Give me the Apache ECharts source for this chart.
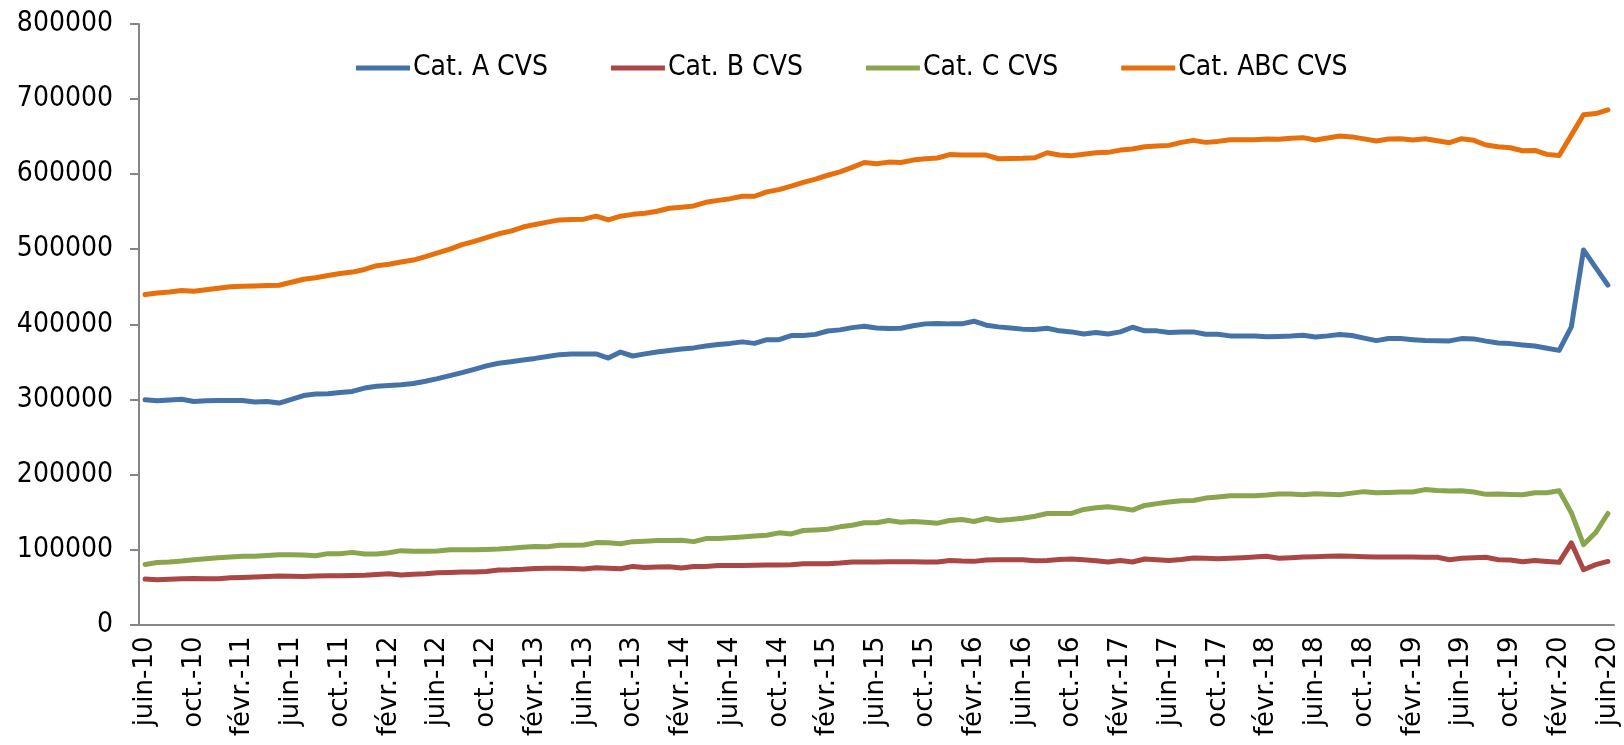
<!DOCTYPE html>
<html>
<head>
<meta charset="utf-8">
<script src="https://cdn.jsdelivr.net/npm/echarts@6/dist/echarts.min.js"></script>
<style>
  html, body { margin: 0; padding: 0; background: #fff; }
  #chart { width: 1624px; height: 745px; }
</style>
</head>
<body>
<div id="chart"></div>
<script>
// mois affichés sur l'axe (juin-10 ... juin-20)
var moisNoms = ['janv.', 'févr.', 'mars', 'avr.', 'mai', 'juin', 'juil.', 'août', 'sept.', 'oct.', 'nov.', 'déc.'];
var debutAnnee = 10, debutMois = 5, nbMois = 121;

// séries
var catA = [
  299500, 298000, 299000, 300000, 297000, 298000, 298500, 298500, 298500, 296500,
  297000, 295000, 300000, 305000, 307000, 307500, 309000, 310500, 315000, 317500,
  318500, 319500, 321000, 324000, 327500, 331500, 335500, 340000, 344500, 348000,
  350000, 352500, 354500, 357000, 359500, 360500, 360500, 360500, 355000, 363000,
  357700, 360500, 363000, 365000, 367000, 368500, 371000, 373000, 374500, 376500,
  374500, 379500, 379500, 385000, 385000, 386500, 391000, 392500, 395500, 397300,
  395000, 394200, 394600, 398000, 400500, 401000, 400500, 400500, 404000, 398700,
  396500, 395000, 393500, 393000, 394600, 391200, 389800, 387100, 388900, 387100,
  389800, 396000, 391200, 391200, 389000, 389800, 389800, 386600, 386600, 384500,
  384500, 384500, 383500, 383800, 384300, 385300, 383000, 384500, 386400, 385000,
  381500, 378200, 380900, 380900, 379500, 378200, 378000, 377800, 380900, 380500,
  377500, 375000, 374200, 372500, 371000, 368000, 365200, 396500, 499000, 475500,
  452200
];
var catB = [
  60500, 59500, 60300, 61000, 61300, 61000, 61000, 62200, 62700, 63200,
  63800, 64500, 64200, 64000, 64500, 64900, 65100, 65300, 65600, 66500,
  67600, 65800, 67000, 67600, 68900, 69400, 69900, 70000, 70500, 72500,
  72800, 73500, 74700, 74900, 75100, 74500, 74000, 75600, 74800, 74300,
  77400, 76000, 76500, 77000, 75200, 77400, 77400, 78700, 78700, 78700,
  79000, 79200, 79400, 79600, 81000, 81000, 81000, 81900, 83300, 83300,
  83300, 83500, 83700, 83500, 83300, 83300, 85400, 84500, 84100, 85900,
  86300, 86300, 86300, 84800, 85400, 86700, 87100, 86300, 85000, 83300,
  85400, 83300, 87300, 86300, 85400, 86500, 88600, 88200, 87700, 88300,
  89000, 89900, 90800, 88200, 89000, 89900, 90300, 90800, 91300, 90800,
  90200, 89900, 89900, 89900, 89900, 89700, 89500, 86300, 88200, 88800,
  89500, 86300, 86000, 83700, 85400, 84000, 82800, 108700, 73000, 79700,
  84000
];
var catC = [
  80000, 82500, 83300, 84500, 86300, 87500, 89000, 90000, 90800, 90800,
  92000, 93000, 93000, 92500, 91700, 94400, 94400, 96100, 94000, 94000,
  95500, 98400, 97500, 97500, 98000, 99500, 99500, 99500, 100000, 100500,
  101500, 103000, 104000, 103700, 105500, 105700, 106000, 109100, 109000, 107500,
  110400, 111000, 111800, 112000, 112200, 110400, 114500, 114500, 115500, 116700,
  117800, 118900, 122100, 120700, 125200, 126000, 127000, 130100, 132300, 135500,
  135500, 138600, 136300, 137200, 136200, 135000, 138600, 139900, 137200, 141200,
  138600, 139900, 141600, 144300, 147900, 147900, 148000, 153300, 155500, 156900,
  155000, 152400, 158600, 161000, 163100, 165000, 165300, 168400, 170000, 171600,
  171600, 171600, 172500, 173800, 173800, 172900, 174300, 173500, 172900, 175000,
  177000, 175600, 176000, 176500, 176500, 179700, 178500, 177800, 178300, 176500,
  173400, 173800, 173200, 172900, 175600, 175600, 178300, 148900, 106400, 122500,
  147900
];
var catABC = [
  439500, 441500, 443000, 445000, 444000, 446000, 448000, 450000, 450500, 451000,
  451500, 452000, 456000, 460000, 462000, 465000, 467500, 469500, 473000, 478000,
  480000, 483000, 485500, 490000, 495000, 500000, 506000, 510500, 515500, 520500,
  524000, 529500, 533000, 536000, 539000, 539500, 540000, 544000, 539000, 544000,
  546400, 548000, 550500, 554500, 556000, 557600, 562500, 565000, 567300, 570500,
  570500, 576300, 579400, 584000, 589000, 593300, 598500, 603000, 609000, 615500,
  613800, 616000, 615500, 618700, 620500, 621500, 626000, 625500, 625500, 625400,
  620500, 620700, 621000, 621800, 628500, 625400, 624500, 626500, 628500, 629000,
  632000, 633400, 636500, 637400, 638300, 642300, 645000, 642300, 643600, 645900,
  645900, 645900, 646800, 646400, 647700, 648600, 645500, 648200, 650900, 649600,
  647000, 644200, 646800, 647200, 645500, 647200, 644500, 641900, 647200, 645000,
  638800, 636500, 635200, 631200, 631600, 626300, 624900, 652000, 679000, 680700,
  685700
];

var noms = ['Cat. A CVS', 'Cat. B CVS', 'Cat. C CVS', 'Cat. ABC CVS'];
var couleurs = ['#4572A7', '#AA4643', '#89A54E', '#E8700C'];
var donnees = [catA, catB, catC, catABC];

// étiquettes des mois
var categories = [];
for (var k = 0; k < nbMois; k++) {
  var m = (debutMois + k) % 12;
  var a = debutAnnee + Math.floor((debutMois + k) / 12);
  categories.push(moisNoms[m] + '-' + a);
}

var myChart = echarts.init(document.getElementById('chart'));

var series = [];
for (var s = 0; s < noms.length; s++) {
  series.push({
    name: noms[s],
    type: 'line',
    data: donnees[s],
    symbol: 'none',
    smooth: false,
    animation: false,
    lineStyle: { color: couleurs[s], width: 5, cap: 'round', join: 'round' },
    itemStyle: { color: couleurs[s] }
  });
}

var option = {
  backgroundColor: '#fff',
  animation: false,
  legend: {
    data: noms,
    left: 351,
    top: 47,
    icon: 'rect',
    itemWidth: 54,
    itemHeight: 5,
    itemGap: 63,
    textStyle: { fontFamily: 'DejaVu Sans Condensed', fontSize: 28, color: '#000', lineHeight: 32, padding: [0, 0, 0, -2] }
  },
  grid: { left: 139, right: 10, top: 24, bottom: 120.5, containLabel: false },
  xAxis: {
    type: 'category',
    data: categories,
    boundaryGap: true,
    axisLine: { lineStyle: { color: '#868686', width: 2 } },
    axisTick: { interval: 3, length: 9, lineStyle: { color: '#868686', width: 2 } },
    axisLabel: {
      interval: 3,
      rotate: 90,
      margin: 12,
      fontFamily: 'DejaVu Sans',
      fontSize: 26,
      color: '#000'
    },
    splitLine: { show: false }
  },
  yAxis: {
    type: 'value',
    min: 0,
    max: 800000,
    interval: 100000,
    axisLine: { show: true, lineStyle: { color: '#868686', width: 2 } },
    axisTick: { show: true, length: 9, lineStyle: { color: '#868686', width: 2 } },
    axisLabel: {
      margin: 26,
      fontFamily: 'DejaVu Sans Condensed',
      fontSize: 28,
      color: '#000',
      formatter: function (v) { return String(v); }
    },
    splitLine: { show: false }
  },
  series: series
};

myChart.setOption(option);
</script>
</body>
</html>
